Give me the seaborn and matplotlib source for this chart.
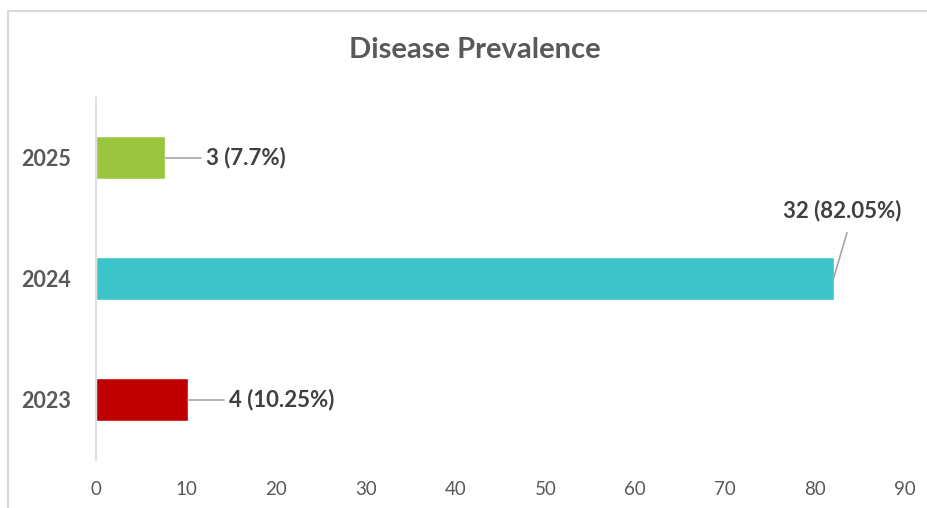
import matplotlib
matplotlib.use("Agg")
import matplotlib.pyplot as plt
import matplotlib.patches as mpatches
import seaborn as sns
import pandas as pd

years = ["2025", "2024", "2023"]
percents = [7.7, 82.05, 10.25]
counts = [3, 32, 4]
colors = ["#9BC53F", "#3DC3CA", "#C00000"]
xticks = [0, 10, 20, 30, 40, 50, 60, 70, 80, 90]
title = "Disease Prevalence"

sns.set_theme(style="white")
plt.rcParams["font.family"] = ["Lato", "DejaVu Sans"]

df = pd.DataFrame({"year": years, "pct": percents})

fig = plt.figure(figsize=(9.28, 5.08), dpi=100)
ax = fig.add_axes([96 / 928, 48 / 508, 809 / 928, 363 / 508])

sns.barplot(data=df, x="pct", y="year", hue="year", order=years,
            palette=dict(zip(years, colors)), width=0.355, legend=False,
            saturation=1, ax=ax)

ax.set_xlim(0, 90)
ax.set_ylim(2.5, -0.5)
ax.set_xticks(xticks)
ax.set_xticklabels([str(t) for t in xticks], color="#595959", fontsize=13.5)
ax.tick_params(axis="x", length=0, pad=15)
ax.tick_params(axis="y", length=0, pad=18)
for lab in ax.get_yticklabels():
    lab.set_fontweight("bold")
    lab.set_color("#595959")
    lab.set_fontsize(15.5)
ax.set_xlabel("")
ax.set_ylabel("")
for s in ["top", "right", "bottom"]:
    ax.spines[s].set_visible(False)
ax.spines["left"].set_color("#D9D9D9")
ax.spines["left"].set_linewidth(1.2)

lc = "#A6A6A6"
lab_kw = dict(color="#404040", fontsize=16, fontweight="bold")
for i, (y, p, c) in enumerate(zip(years, percents, counts)):
    text = f"{c} ({p:g}%)"
    if p > 50:
        ax.plot([p, p + 1.5], [i + 0.0, i - 0.38], color=lc, lw=1.2)
        ax.text(p + 1.0, i - 0.56, text, ha="center", va="center", **lab_kw)
    else:
        ax.plot([p, p + 4.0], [i, i], color=lc, lw=1.2)
        ax.text(p + 4.5, i, text, ha="left", va="center", **lab_kw)

fig.text(475 / 928, 1 - 50 / 508, title, ha="center", va="center",
         fontsize=21, fontweight="bold", color="#595959")

fig.patches.append(mpatches.Rectangle((8 / 928, -0.1), 1.2, 1 - 11 / 508 + 0.1,
                                      transform=fig.transFigure, fill=False,
                                      edgecolor="#D9D9D9", linewidth=1.5))

fig.savefig("out.png", dpi=100, facecolor="white")
